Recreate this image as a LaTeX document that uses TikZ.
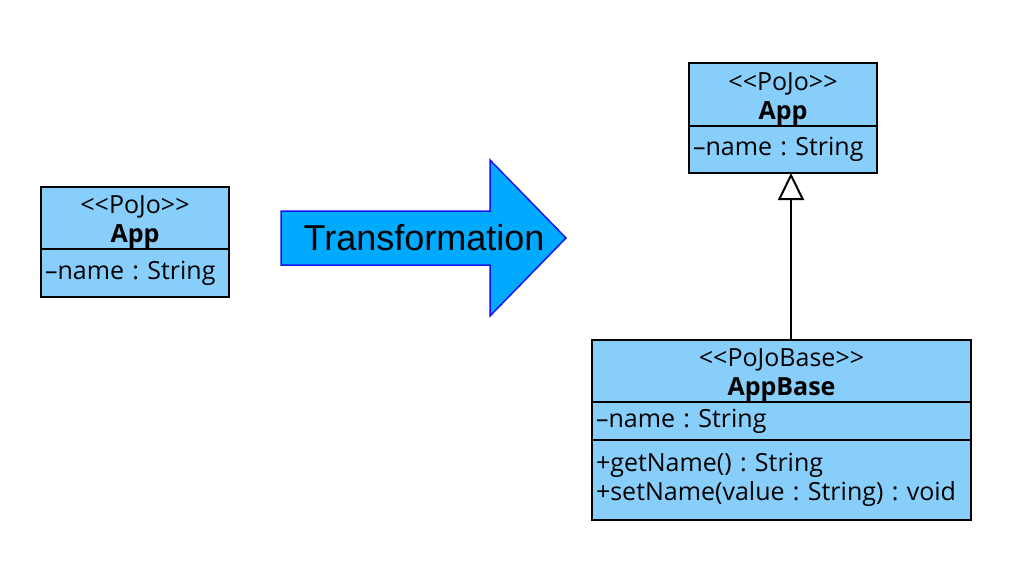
\documentclass[tikz,border=0pt]{standalone}
\usepackage{fontspec}
\setmainfont{Open Sans}
\newfontfamily\arialfont{Liberation Sans}
\usepackage{tikz}
\usetikzlibrary{positioning, arrows.meta}
\definecolor{classblue}{RGB}{135,206,250}
\definecolor{arrowfill}{RGB}{0,170,255}
\definecolor{arrowline}{RGB}{20,20,240}
\newcommand{\umlfont}{\fontsize{25}{29}\selectfont\frenchspacing}

\begin{document}
\begin{tikzpicture}[x=1pt, y=-1pt,
    compart/.style = {
        draw,
        fill=classblue,
        line width=2pt,
        rectangle,
        inner xsep=4pt,
        inner ysep=0pt,
        outer sep=0pt,
        text width=#1,
        font=\umlfont
    },
    classname/.style = {
        compart=#1,
        align=center,
        execute at begin node={\rule{0pt}{26pt}}
    },
    members/.style = {
        compart=#1,
        align=left
    },
    transarrow/.style = {
        draw=arrowline,
        fill=arrowfill,
        line width=1.5pt,
        line join=miter
    },
    inherit/.style = {
        line width=2pt,
        -{Triangle[open, length=27pt, width=26pt]}
    }
]
    \useasboundingbox (0,0) rectangle (1022,560);

    % Class before the transformation
    \node[classname=180pt, minimum height=62pt, anchor=north west] (app) at (41,187)
        {<{}<PoJo>{}>\\ \textbf{App}};
    \node[members=180pt, minimum height=48pt, below=0pt of app] (appattr)
        {--name : String};

    % Transformation arrow
    \draw[transarrow] (281,211) -- (490,211) -- (490,160) -- (566,238)
        -- (490,316) -- (490,265) -- (281,265) -- cycle;
    \node[font=\arialfont\fontsize{36}{36}\selectfont] (trans) at (424,238) {Transformation};

    % Classes after the transformation
    \node[classname=180pt, minimum height=63pt, anchor=north west] (pojo) at (689,63)
        {<{}<PoJo>{}>\\ \textbf{App}};
    \node[members=180pt, minimum height=47pt, below=0pt of pojo] (pojoattr)
        {--name : String};

    \node[classname=371pt, minimum height=62pt, anchor=north west] (base) at (592,340)
        {<{}<PoJoBase>{}>\\ \textbf{AppBase}};
    \node[members=371pt, minimum height=38pt, below=0pt of base] (baseattr)
        {--name : String};
    \node[members=371pt, minimum height=80pt, below=0pt of baseattr] (baseops)
        {+getName() : String\\ +setName(value : String) : void};

    % Generalization
    \coordinate (sub) at ([xshift=9.5pt]base.north);
    \draw[inherit] (sub) -- (sub |- pojoattr.south);
\end{tikzpicture}
\end{document}
